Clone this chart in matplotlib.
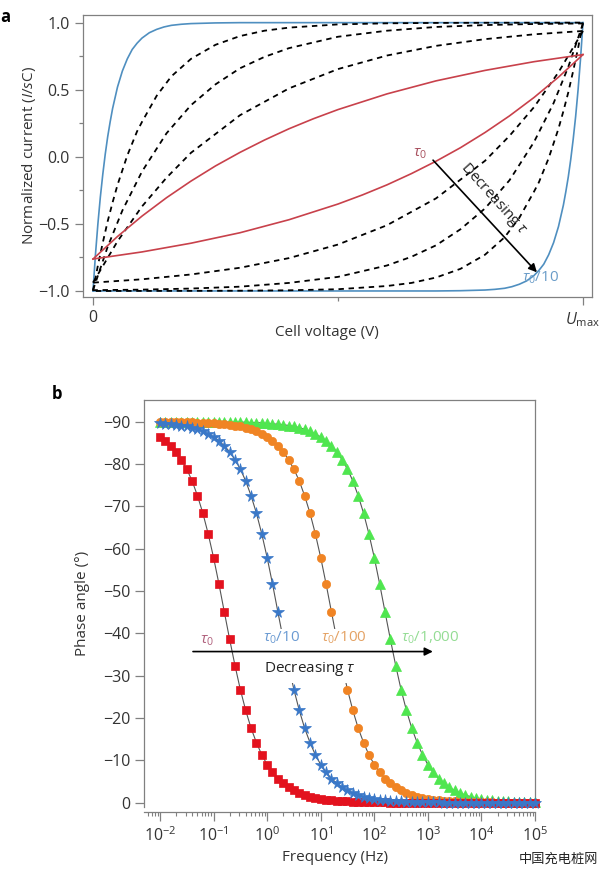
import matplotlib
matplotlib.use("Agg")
import matplotlib.pyplot as plt
import numpy as np
from matplotlib.patches import Rectangle
from matplotlib.ticker import FixedLocator, LogLocator, LogFormatterMathtext

plt.rcParams['font.family'] = ['Open Sans', 'DejaVu Sans']
plt.rcParams['mathtext.fontset'] = 'custom'
plt.rcParams['mathtext.rm'] = 'Open Sans'
plt.rcParams['mathtext.it'] = 'Open Sans:italic'
plt.rcParams['mathtext.bf'] = 'Open Sans:bold'

# ---- panel a: normalized current vs cell voltage (forward sweep)
x_blue = [0, 0.005, 0.01, 0.015, 0.02, 0.025, 0.03, 0.035, 0.04, 0.05, 0.06, 0.07, 0.08, 0.09,
          0.10, 0.115, 0.13, 0.145, 0.16, 0.18, 0.20, 0.25, 0.30, 0.40, 0.60, 0.80, 1.0]
y_blue = [-1.0, -0.73, -0.50, -0.30, -0.13, 0.02, 0.15, 0.26, 0.36, 0.52, 0.64, 0.73, 0.80, 0.847,
          0.885, 0.925, 0.95, 0.968, 0.98, 0.988, 0.993, 0.998, 1.0, 1.0, 1.0, 1.0, 1.0]

x_d1 = [0, 0.01, 0.02, 0.03, 0.04, 0.05, 0.06, 0.07, 0.08, 0.09, 0.10, 0.13, 0.16, 0.20,
        0.25, 0.30, 0.35, 0.40, 0.50, 0.60, 0.70, 0.80, 1.0]
y_d1 = [-1.0, -0.81, -0.64, -0.48, -0.34, -0.21, -0.10, 0.01, 0.10, 0.19, 0.26, 0.455, 0.60, 0.73,
        0.835, 0.90, 0.94, 0.963, 0.987, 0.995, 0.998, 0.999, 1.0]

x_d2 = [0, 0.03, 0.06, 0.10, 0.15, 0.20, 0.25, 0.30, 0.35, 0.40, 0.50, 0.60, 0.70, 0.80, 0.90, 1.0]
y_d2 = [-0.994, -0.67, -0.40, -0.11, 0.175, 0.385, 0.54, 0.66, 0.745, 0.81, 0.895, 0.94, 0.968, 0.982, 0.99, 0.994]

x_d3 = [0, 0.05, 0.10, 0.15, 0.20, 0.30, 0.40, 0.50, 0.60, 0.70, 0.80, 0.90, 1.0]
y_d3 = [-0.938, -0.63, -0.37, -0.156, 0.03, 0.31, 0.51, 0.654, 0.755, 0.827, 0.877, 0.913, 0.938]

x_red = [0, 0.05, 0.1, 0.15, 0.2, 0.25, 0.3, 0.35, 0.4, 0.45, 0.5, 0.6, 0.7, 0.8, 0.9, 1.0]
y_red = [-0.762, -0.594, -0.442, -0.305, -0.181, -0.068, 0.033, 0.125, 0.209, 0.284, 0.352,
         0.469, 0.566, 0.644, 0.709, 0.762]

# ---- panel b: phase angle vs frequency, 10 points per decade from 1e-2 to 1e5 Hz
freq = np.logspace(-2, 5, 71)
ph_red = [-86.4, -85.5, -84.3, -82.9, -81.0, -78.8, -76.0, -72.5, -68.4, -63.5,
          -57.9, -51.7, -45.1, -38.6, -32.4, -26.7, -21.8, -17.6, -14.2, -11.3,
          -9.0, -7.2, -5.7, -4.6, -3.6, -2.9, -2.3, -1.8, -1.4, -1.1,
          -0.9, -0.7, -0.6, -0.5, -0.4, -0.3, -0.2, -0.2, -0.1, -0.1,
          -0.1, -0.1, -0.1, 0, 0, 0, 0, 0, 0, 0,
          0, 0, 0, 0, 0, 0, 0, 0, 0, 0,
          0, 0, 0, 0, 0, 0, 0, 0, 0, 0, 0]
ph_blue = [-89.6, -89.5, -89.4, -89.3, -89.1, -88.9, -88.6, -88.2, -87.7, -87.1,
           -86.4, -85.5, -84.3, -82.9, -81.0, -78.8, -76.0, -72.5, -68.4, -63.5,
           -57.9, -51.7, -45.1, -38.6, -32.4, -26.7, -21.8, -17.6, -14.2, -11.3,
           -9.0, -7.2, -5.7, -4.6, -3.6, -2.9, -2.3, -1.8, -1.4, -1.1,
           -0.9, -0.7, -0.6, -0.5, -0.4, -0.3, -0.2, -0.2, -0.1, -0.1,
           -0.1, -0.1, -0.1, 0, 0, 0, 0, 0, 0, 0,
           0, 0, 0, 0, 0, 0, 0, 0, 0, 0, 0]
ph_orange = [-90.0, -90.0, -89.9, -89.9, -89.9, -89.9, -89.9, -89.8, -89.8, -89.7,
             -89.6, -89.5, -89.4, -89.3, -89.1, -88.9, -88.6, -88.2, -87.7, -87.1,
             -86.4, -85.5, -84.3, -82.9, -81.0, -78.8, -76.0, -72.5, -68.4, -63.5,
             -57.9, -51.7, -45.1, -38.6, -32.4, -26.7, -21.8, -17.6, -14.2, -11.3,
             -9.0, -7.2, -5.7, -4.6, -3.6, -2.9, -2.3, -1.8, -1.4, -1.1,
             -0.9, -0.7, -0.6, -0.5, -0.4, -0.3, -0.2, -0.2, -0.1, -0.1,
             -0.1, -0.1, -0.1, 0, 0, 0, 0, 0, 0, 0, 0]
ph_green = [-90.0, -90.0, -90.0, -90.0, -90.0, -90.0, -90.0, -90.0, -90.0, -90.0,
            -90.0, -90.0, -89.9, -89.9, -89.9, -89.9, -89.9, -89.8, -89.8, -89.7,
            -89.6, -89.5, -89.4, -89.3, -89.1, -88.9, -88.6, -88.2, -87.7, -87.1,
            -86.4, -85.5, -84.3, -82.9, -81.0, -78.8, -76.0, -72.5, -68.4, -63.5,
            -57.9, -51.7, -45.1, -38.6, -32.4, -26.7, -21.8, -17.6, -14.2, -11.3,
            -9.0, -7.2, -5.7, -4.6, -3.6, -2.9, -2.3, -1.8, -1.4, -1.1,
            -0.9, -0.7, -0.6, -0.5, -0.4, -0.3, -0.2, -0.2, -0.1, -0.1, -0.1]

c_blue_a = '#4f8fc0'
c_red_a = '#c8414b'
frame = '#808080'

fig = plt.figure(figsize=(6, 8.74), dpi=100)

# ================= panel a
ax = fig.add_axes([0.13833, 0.66018, 0.84833, 0.32265])
curves = [(x_blue, y_blue, c_blue_a, '-'), (x_d1, y_d1, 'black', '--'),
          (x_d2, y_d2, 'black', '--'), (x_d3, y_d3, 'black', '--'),
          (x_red, y_red, c_red_a, '-')]
for xs, ys, col, ls in curves:
    xs = np.array(xs); ys = np.array(ys)
    # forward sweep and the mirrored reverse sweep
    for xx, yy in [(xs, ys), (1 - xs, -ys)]:
        if ls == '--':
            ax.plot(xx, yy, color=col, lw=1.3, dashes=(3, 2.6))
        else:
            ax.plot(xx, yy, color=col, lw=1.2)

ax.set_xlim(-0.0204, 1.0184)
ax.set_ylim(-1.045, 1.057)
ax.set_yticks([-1.0, -0.5, 0.0, 0.5, 1.0])
ax.yaxis.set_minor_locator(FixedLocator([-0.75, -0.25, 0.25, 0.75]))
ax.set_xticks([0, 1])
ax.set_xticklabels(['0', r'$U_{\rm max}$'])
ax.xaxis.set_minor_locator(FixedLocator([0.5]))
ax.tick_params(which='major', direction='out', length=6, width=0.9, color=frame,
               labelsize=11.5, labelcolor='#333333')
ax.tick_params(which='minor', direction='out', length=3, width=0.9, color=frame)
for s in ax.spines.values():
    s.set_color(frame)
    s.set_linewidth(0.9)
ax.set_ylabel(r'Normalized current ($I$/$s$C)', fontsize=11, color='#333333')
ax.yaxis.set_label_coords(-0.088, 0.5)
ax.set_xlabel('Cell voltage (V)', fontsize=11, color='#333333')
ax.xaxis.set_label_coords(0.479, -0.1)

ax.text(0.667, 0.028, r'$\tau_0$', color='#a8505e', fontsize=11, ha='center', va='center')
ax.annotate('', xy=(0.906, -0.861), xytext=(0.694, -0.025),
            arrowprops=dict(arrowstyle='-|>', color='black', lw=1.2, mutation_scale=12,
                            shrinkA=0, shrinkB=0))
ax.text(0.818, -0.315, r'Decreasing $\tau$', rotation=-48, fontsize=11,
        ha='center', va='center', color='#222222', rotation_mode='anchor')
ax.text(0.914, -0.905, r'$\tau_0$/10', color='#6a9cc8', fontsize=11, ha='center', va='center')

fig.text(0.009, 0.991, 'a', fontsize=12, weight='bold', ha='center', va='top')

# ================= panel b
bx = fig.add_axes([0.24, 0.07666, 0.65167, 0.46568])
series = [(ph_green, '^', '#4fe64f', 6.5), (ph_orange, 'o', '#f08424', 6.0),
          (ph_red, 's', '#e3121e', 5.5), (ph_blue, '*', '#3a78c8', 8.5)]
for ph, mk, col, ms in series:
    bx.plot(freq, ph, color='#555555', lw=0.8, marker=mk, ms=ms, mfc=col, mec=col,
            mew=0.5, clip_on=False, zorder=3)

bx.set_xscale('log')
bx.set_xlim(10 ** -2.2985, 1e5)
bx.set_ylim(1.02, -95.13)
bx.set_yticks([0, -10, -20, -30, -40, -50, -60, -70, -80, -90])
bx.xaxis.set_major_locator(LogLocator(base=10, numticks=20))
bx.xaxis.set_major_formatter(LogFormatterMathtext())
bx.xaxis.set_minor_locator(LogLocator(base=10, subs=np.arange(2, 10), numticks=20))
bx.spines['bottom'].set_position(('outward', 3.6))
for s in bx.spines.values():
    s.set_color(frame)
    s.set_linewidth(0.9)
bx.tick_params(which='major', direction='out', length=6.5, width=0.9, color=frame,
               labelsize=11.5, labelcolor='#333333')
bx.tick_params(which='minor', direction='out', length=3, width=0.8, color=frame)
bx.set_ylabel('Phase angle (°)', fontsize=11, color='#333333')
bx.yaxis.set_label_coords(-0.138, 0.5)
bx.set_xlabel('Frequency (Hz)', fontsize=11, color='#333333')
bx.xaxis.set_label_coords(0.488, -0.105)

# white patch behind the "Decreasing tau" label
bx.add_patch(Rectangle((0.68, -41.0), 59 - 0.68, 12.8, facecolor='white',
                       edgecolor='none', zorder=4))
bx.text(0.0753, -38.4, r'$\tau_0$', color='#b0607c', fontsize=11, ha='center', va='center', zorder=6)
bx.text(1.89, -38.9, r'$\tau_0$/10', color='#6a9ad2', fontsize=11, ha='center', va='center', zorder=6)
bx.text(27.1, -38.9, r'$\tau_0$/100', color='#e4a264', fontsize=11, ha='center', va='center', zorder=6)
bx.text(1089, -38.9, r'$\tau_0$/1,000', color='#94dc94', fontsize=11, ha='center', va='center', zorder=6)
bx.annotate('', xy=(1239, -35.7), xytext=(0.0413, -35.7),
            arrowprops=dict(arrowstyle='-|>', color='black', lw=1.2, mutation_scale=12,
                            shrinkA=0, shrinkB=0), zorder=6)
bx.text(6.28, -31.6, r'Decreasing $\tau$', fontsize=11, ha='center', va='center',
        color='#222222', zorder=6)

fig.text(0.095, 0.549, 'b', fontsize=12, weight='bold', ha='center', va='center')

fig.text(0.93, 0.0165, '中国充电桩网', family=['Noto Sans CJK SC', 'DejaVu Sans'],
         fontsize=9.5, color='#222222', ha='center', va='center')

fig.savefig('out.png', dpi=100)
